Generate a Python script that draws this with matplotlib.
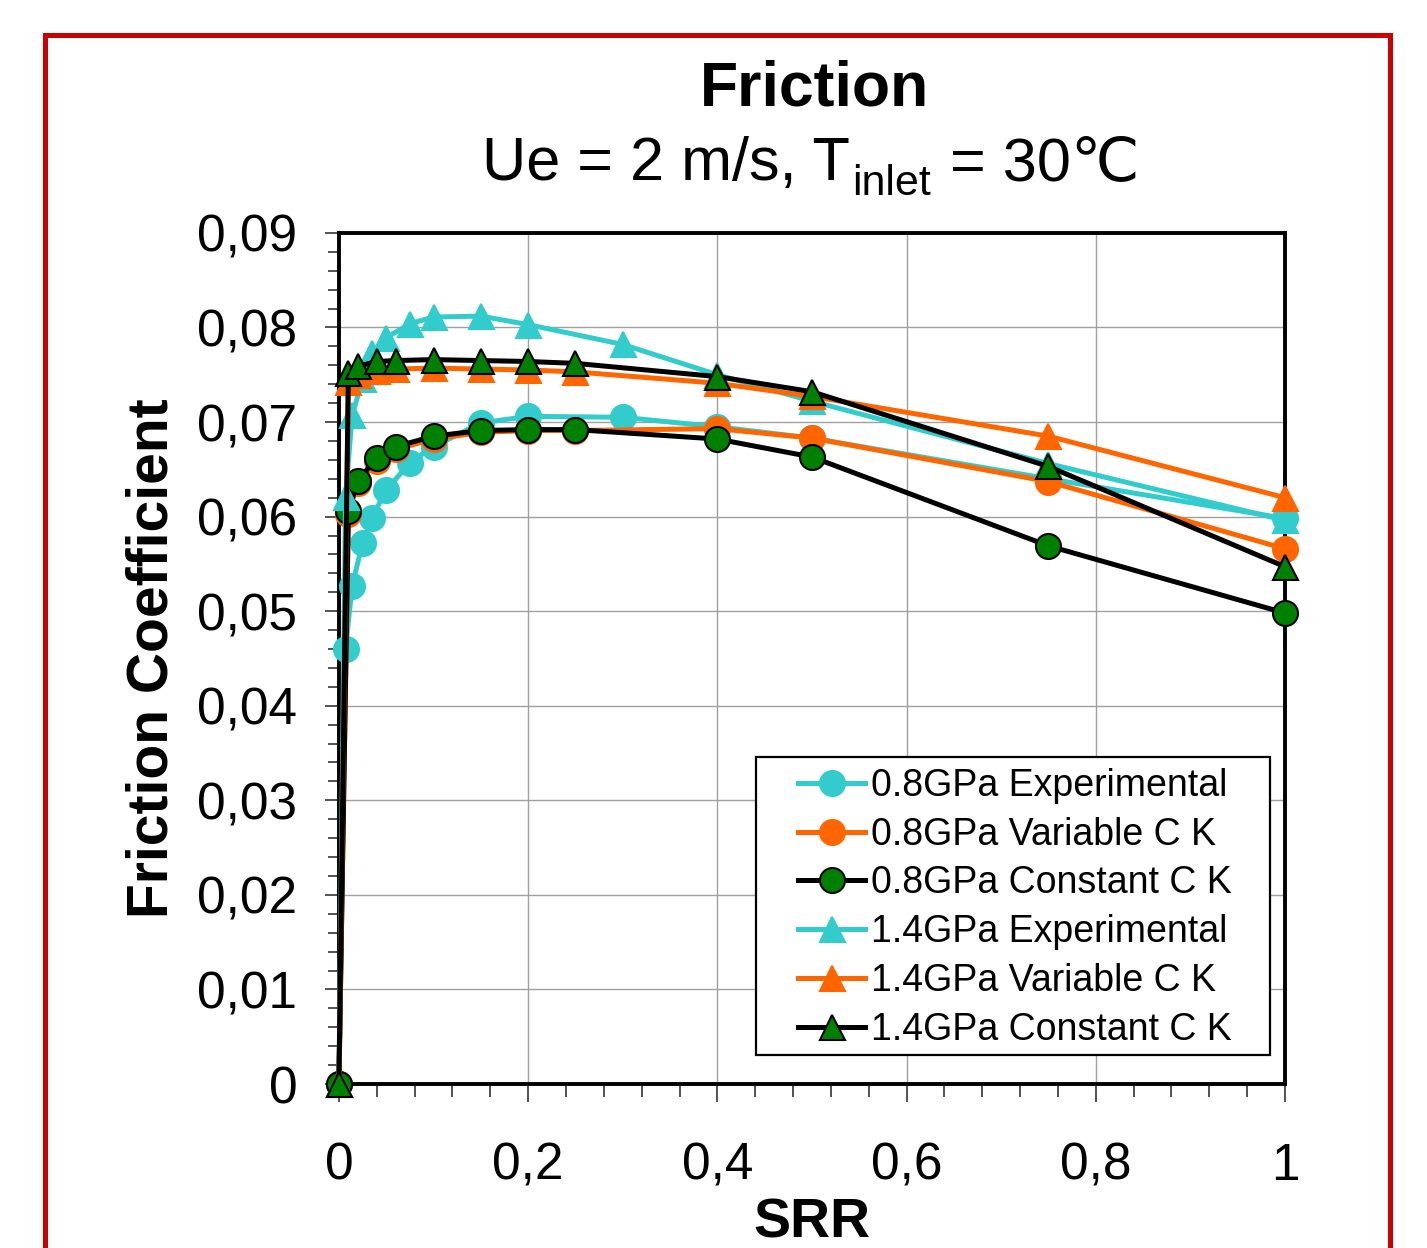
import numpy as np
import matplotlib
matplotlib.use('Agg')
import matplotlib.pyplot as plt
from matplotlib.patches import Rectangle
from matplotlib.ticker import MultipleLocator, FuncFormatter

plt.rcParams['font.family'] = ['Liberation Sans', 'DejaVu Sans']

# Data (SRR vs friction coefficient)
srr_exp = [0, 0.007, 0.014, 0.025, 0.035, 0.05, 0.075, 0.1, 0.15, 0.2, 0.3, 0.4, 0.5, 0.75, 1.0]
srr_model = [0, 0.01, 0.02, 0.04, 0.06, 0.1, 0.15, 0.2, 0.25, 0.4, 0.5, 0.75, 1.0]

cf_08_exp = [0, 0.0460, 0.0527, 0.0572, 0.0599, 0.0628, 0.0657, 0.0674, 0.0699, 0.0706,
             0.0705, 0.0695, 0.0683, 0.0640, 0.0598]
cf_08_var = [0, 0.0603, 0.0635, 0.0659, 0.0671, 0.0682, 0.0689, 0.0691, 0.0691, 0.0693,
             0.0683, 0.0637, 0.0566]
cf_08_const = [0, 0.0606, 0.0638, 0.0662, 0.0674, 0.0685, 0.0691, 0.0692, 0.0692, 0.0682,
               0.0663, 0.0569, 0.0498]
cf_14_exp = [0, 0.0621, 0.0707, 0.0745, 0.0773, 0.0789, 0.0804, 0.0811, 0.0812, 0.0803,
             0.0782, 0.0750, 0.0722, 0.0656, 0.0596]
cf_14_var = [0, 0.0742, 0.0750, 0.0754, 0.0756, 0.0757, 0.0756, 0.0755, 0.0753, 0.0741,
             0.0727, 0.0685, 0.0620]
cf_14_const = [0, 0.0752, 0.0759, 0.0764, 0.0765, 0.0766, 0.0765, 0.0764, 0.0762, 0.0748,
               0.0732, 0.0653, 0.0547]

labels = ['0.8GPa Experimental', '0.8GPa Variable C K', '0.8GPa Constant C K',
          '1.4GPa Experimental', '1.4GPa Variable C K', '1.4GPa Constant C K']

CYAN = '#33CCCC'
ORANGE = '#FF6600'
GREEN = '#008000'

W, H = 1427, 1248
fig = plt.figure(figsize=(W / 100, H / 100), dpi=100)
ax = fig.add_axes([0.2375, 0.1314, 0.663, 0.682])

# pixel (from top-left of image) -> axes fraction
def px2ax(px, py):
    return (px - 338.5) / 946.5, (1084 - py) / 851.0

series = [
    (srr_exp, cf_08_exp, CYAN, 'o', CYAN, CYAN),
    (srr_model, cf_08_var, ORANGE, 'o', ORANGE, ORANGE),
    (srr_model, cf_08_const, 'black', 'o', GREEN, 'black'),
    (srr_exp, cf_14_exp, CYAN, '^', CYAN, CYAN),
    (srr_model, cf_14_var, ORANGE, '^', ORANGE, ORANGE),
    (srr_model, cf_14_const, 'black', '^', GREEN, 'black'),
]
for (x, y, lc, mk, fc, ec), lab in zip(series, labels):
    ax.plot(x, y, color=lc, lw=3.6, marker=mk, markersize=18, markerfacecolor=fc,
            markeredgecolor=ec, markeredgewidth=1.5, label=lab, clip_on=False, zorder=3)

ax.set_xlim(0, 1)
ax.set_ylim(0, 0.09)
ax.xaxis.set_major_locator(MultipleLocator(0.2))
ax.xaxis.set_minor_locator(MultipleLocator(0.04))
ax.yaxis.set_major_locator(MultipleLocator(0.01))
ax.yaxis.set_minor_locator(MultipleLocator(0.002))

comma = FuncFormatter(lambda v, p: ('%g' % round(v, 4)).replace('.', ','))
ax.xaxis.set_major_formatter(comma)
ax.yaxis.set_major_formatter(comma)

ax.grid(True, which='major', color='#a0a0a0', lw=1.0, zorder=0)
ax.set_axisbelow(True)
for s in ax.spines.values():
    s.set_linewidth(2.8)

ax.tick_params(axis='x', which='major', direction='out', length=12.7, width=1.3,
               color='#444444', labelsize=37, pad=29)
ax.tick_params(axis='x', which='minor', direction='out', length=9.6, width=1.3, color='#444444')
ax.tick_params(axis='y', which='major', direction='out', length=10, width=1.3,
               color='#444444', labelsize=37, pad=20)
ax.tick_params(axis='y', which='minor', direction='out', length=8, width=1.3, color='#444444')

ax.set_xlabel('SRR', fontsize=40, fontweight='bold', labelpad=5)
ax.set_ylabel('Friction Coefficient', fontsize=41, fontweight='bold', labelpad=13)

# legend without its own frame; the box is drawn separately
leg = ax.legend(loc='upper left', bbox_to_anchor=px2ax(798, 768), borderaxespad=0,
                fontsize=27, frameon=False, handlelength=1.79, handletextpad=0.15,
                labelspacing=0.34, borderpad=0)
x0, y0 = px2ax(756, 1055)
x1, y1 = px2ax(1270, 757)
ax.add_patch(Rectangle((x0, y0), x1 - x0, y1 - y0, transform=ax.transAxes, facecolor='white',
                       edgecolor='black', lw=1.6, zorder=4))
leg.set_zorder(5)

# title lines
fig.text(815 / W, 1 - 105 / H, 'Friction', fontsize=45, fontweight='bold', ha='center',
         va='baseline')

renderer = fig.canvas.get_renderer()
base_y = 1 - 180 / H
sub_y = 1 - 195 / H
parts = [fig.text(0, base_y, 'Ue = 2 m/s, T', fontsize=44, va='baseline'),
         fig.text(0, sub_y, 'inlet', fontsize=31, va='baseline'),
         fig.text(0, base_y, ' = 30\u2103', fontsize=44, va='baseline')]
widths = [p.get_window_extent(renderer).width for p in parts]
xpos = 809 - sum(widths) / 2
for p, w in zip(parts, widths):
    p.set_x(xpos / W)
    xpos += w + 2

# red frame around the chart
frame = Rectangle((45 / W, -0.05), (1390 - 45) / W, 1 - 34.5 / H + 0.05,
                  transform=fig.transFigure, fill=False, edgecolor='#CC0000', lw=3.6,
                  clip_on=False)
fig.add_artist(frame)

fig.savefig('out.png', dpi=100)
